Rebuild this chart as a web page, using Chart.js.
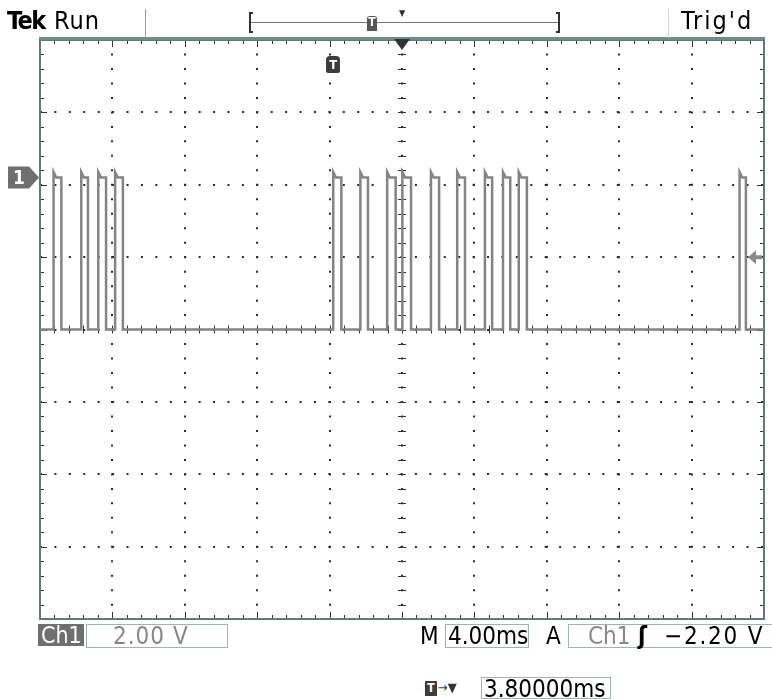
<!DOCTYPE html>
<html>
<head>
<meta charset="utf-8">
<script src="https://cdn.jsdelivr.net/npm/chart.js@4"></script>
<style>
  body { margin: 0; background: #fff; font-family: "DejaVu Sans Condensed", "DejaVu Sans", sans-serif; font-stretch: condensed; }
  #wrap { position: relative; width: 772px; height: 699px; overflow: hidden; }
  canvas { position: absolute; left: 0; top: 0; }
  .t { position: absolute; white-space: nowrap; line-height: 1; }
  .box { position: absolute; border: 1px solid #9fb3b3; box-sizing: border-box; }
  .ln { position: absolute; background: #8fa3a3; }
</style>
</head>
<body>
<div id="wrap">
  <canvas id="scope" width="772" height="699"></canvas>

  <!-- header -->
  <div class="t" style="left:7px;top:8px;font-size:25px;font-weight:bold;letter-spacing:-1.5px;">Tek</div>
  <div class="t" style="left:54px;top:8px;font-size:25px;letter-spacing:1px;">Run</div>
  <div class="ln" style="left:145px;top:9px;width:1px;height:29px;"></div>
  <div class="ln" style="left:668px;top:9px;width:1px;height:29px;background:#ccd6d6;"></div>
  <div class="ln" style="left:250px;top:22px;width:308px;height:1px;background:#777;"></div>
  <div class="ln" style="left:249px;top:12px;width:2px;height:21px;background:#333;"></div>
  <div class="ln" style="left:249px;top:12px;width:4px;height:2px;background:#333;"></div>
  <div class="ln" style="left:249px;top:31px;width:4px;height:2px;background:#333;"></div>
  <div class="ln" style="left:558px;top:12px;width:2px;height:21px;background:#333;"></div>
  <div class="ln" style="left:556px;top:12px;width:4px;height:2px;background:#333;"></div>
  <div class="ln" style="left:556px;top:31px;width:4px;height:2px;background:#333;"></div>
  <div class="t" style="left:367px;top:16px;width:10px;height:15px;background:#555;color:#fff;font-size:12px;text-align:center;border-radius:3px 3px 0 0;font-weight:bold;">T</div>
  <div class="t" style="left:399px;top:9px;font-size:9px;color:#333;">&#9660;</div>
  <div class="t" style="left:681px;top:8px;font-size:25px;letter-spacing:2px;">Trig'd</div>

  <!-- markers placed from the scales -->
  <div id="chMark" class="t" style="font-size:19px;font-weight:bold;color:#fff;">1</div>
  <div id="tMark" class="t" style="width:14px;height:17px;background:#3d3d3d;color:#fff;font-size:13px;font-weight:bold;text-align:center;padding-top:2px;box-sizing:border-box;border-radius:4px 4px 2px 2px;">T</div>

  <!-- footer -->
  <div class="t" style="left:38px;top:624px;width:46px;height:22px;background:#6f6f6f;color:#fff;font-size:23px;padding:0 0 0 3px;box-sizing:border-box;">Ch1</div>
  <div class="box" style="left:86px;top:624px;width:142px;height:24px;"></div>
  <div class="t" style="left:113px;top:624px;font-size:24px;color:#888;letter-spacing:1px;">2.00 V</div>
  <div class="t" style="left:420px;top:624px;font-size:24px;">M</div>
  <div class="box" style="left:445px;top:624px;width:84px;height:24px;"></div>
  <div class="t" style="left:448px;top:624px;font-size:24px;">4.00ms</div>
  <div class="t" style="left:546px;top:624px;font-size:24px;">A</div>
  <div class="box" style="left:568px;top:624px;width:210px;height:24px;"></div>
  <div class="t" style="left:588px;top:624px;font-size:24px;color:#888;">Ch1</div>
  <div class="t" style="left:638px;top:624px;font-size:24px;font-weight:bold;">&#643;</div>
  <div class="t" style="left:664px;top:624px;font-size:24px;letter-spacing:1.8px;">&minus;2.20 V</div>

  <div class="t" style="left:425px;top:681px;width:12px;height:15px;background:#3d3d3d;color:#fff;font-size:12px;text-align:center;font-weight:bold;padding-top:1px;box-sizing:border-box;">T</div>
  <div class="t" style="left:438px;top:681px;font-size:13px;color:#333;">&rarr;&#9660;</div>
  <div class="box" style="left:481px;top:677px;width:130px;height:22px;"></div>
  <div class="t" style="left:484px;top:677px;font-size:24px;">3.80000ms</div>
</div>

<script>
// time base and vertical setting
const msPerDiv = 4;
const voltsPerDiv = 2;
const xMin = -16.2;          // trigger sits 3.8 ms left of centre
const yMin = -12.2;
const triggerTime = 0;
const triggerLevel = -2.2;
const groundLevel = 0;

// pulse edges (ms from trigger)
const riseMs = [-15.45, -13.92, -12.98, -12.05, 0.0, 1.5, 2.98, 3.82, 5.4, 6.85, 8.38, 9.38, 10.25, 22.45];
const fallMs = [-15.02, -13.55, -12.55, -11.62, 0.45, 1.92, 3.45, 4.3, 5.85, 7.28, 8.78, 9.78, 10.7, 22.8];

// levels (V)
const lowV = -4.2;
const highV = 0.0;
const peakV = 0.15;
const settleMs = 0.15;

const xMax = xMin + 10 * msPerDiv;
const yMax = yMin + 8 * voltsPerDiv;

const trace = [{ x: xMin, y: lowV }];
riseMs.forEach((r, i) => {
  trace.push({ x: r, y: lowV });
  trace.push({ x: r, y: peakV });
  trace.push({ x: r + settleMs, y: highV });
  trace.push({ x: fallMs[i], y: highV });
  trace.push({ x: fallMs[i], y: lowV });
});
trace.push({ x: xMax, y: lowV });

function divTicks(min, step, n) {
  const out = [];
  for (let i = 0; i <= n; i++) out.push({ value: min + i * step });
  return out;
}

const graticule = {
  id: 'graticule',
  beforeDatasetsDraw(chart) {
    const { ctx, chartArea: a, scales: { x, y } } = chart;
    const xc = x.getPixelForValue(xMin + 5 * msPerDiv);
    const yc = y.getPixelForValue(yMin + 4 * voltsPerDiv);
    ctx.save();
    ctx.strokeStyle = '#333';
    ctx.lineWidth = 1;
    ctx.beginPath();
    for (let k = 0; k <= 50; k++) {
      const px = Math.round(x.getPixelForValue(xMin + k * msPerDiv / 5)) + 0.5;
      const len = k % 5 === 0 ? 7 : 4;
      ctx.moveTo(px, a.top); ctx.lineTo(px, a.top + len);
      ctx.moveTo(px, a.bottom); ctx.lineTo(px, a.bottom - len);
      ctx.moveTo(px, yc - 4); ctx.lineTo(px, yc + 4);
    }
    for (let k = 0; k <= 40; k++) {
      const py = Math.round(y.getPixelForValue(yMin + k * voltsPerDiv / 5)) + 0.5;
      const len = k % 5 === 0 ? 7 : 4;
      ctx.moveTo(a.left, py); ctx.lineTo(a.left + len, py);
      ctx.moveTo(a.right, py); ctx.lineTo(a.right - len, py);
      ctx.moveTo(xc - 4, py); ctx.lineTo(xc + 4, py);
    }
    ctx.stroke();
    // frame
    ctx.strokeStyle = '#5f7a7a';
    ctx.lineWidth = 2;
    ctx.strokeRect(a.left, a.top, a.right - a.left, a.bottom - a.top);
    ctx.fillStyle = '#6f8c8c';
    ctx.fillRect(a.left - 1, a.top - 3, a.right - a.left + 2, 3);
    ctx.restore();
  },
  afterDraw(chart) {
    const { ctx, chartArea: a, scales: { x, y } } = chart;
    const xc = x.getPixelForValue(xMin + 5 * msPerDiv);
    const gy = y.getPixelForValue(groundLevel);
    const ty = y.getPixelForValue(triggerLevel);
    const tx = x.getPixelForValue(triggerTime);
    ctx.save();
    // centre (time reference) triangle
    ctx.fillStyle = '#333';
    ctx.beginPath();
    ctx.moveTo(xc - 8, a.top - 1); ctx.lineTo(xc + 8, a.top - 1); ctx.lineTo(xc, a.top + 10);
    ctx.fill();
    // channel 1 ground marker
    ctx.fillStyle = '#6f6f6f';
    ctx.beginPath();
    ctx.moveTo(8, gy - 11); ctx.lineTo(29, gy - 11); ctx.lineTo(a.left - 1, gy);
    ctx.lineTo(29, gy + 11); ctx.lineTo(8, gy + 11);
    ctx.closePath();
    ctx.fill();
    // trigger level arrow
    ctx.fillStyle = '#8a8a8a';
    ctx.beginPath();
    ctx.moveTo(a.right - 16, ty); ctx.lineTo(a.right - 8, ty - 7); ctx.lineTo(a.right - 8, ty - 2);
    ctx.lineTo(a.right - 2, ty - 2); ctx.lineTo(a.right - 2, ty + 2); ctx.lineTo(a.right - 8, ty + 2);
    ctx.lineTo(a.right - 8, ty + 7);
    ctx.closePath();
    ctx.fill();
    ctx.restore();

    const ch = document.getElementById('chMark');
    ch.style.left = '13px';
    ch.style.top = (gy - 10) + 'px';
    const tm = document.getElementById('tMark');
    tm.style.left = (tx - 7) + 'px';
    tm.style.top = (a.top + 16) + 'px';
  }
};

new Chart(document.getElementById('scope'), {
  type: 'line',
  data: {
    datasets: [{
      label: 'Ch1',
      data: trace,
      borderColor: '#848484',
      borderWidth: 2.5,
      pointRadius: 0,
      tension: 0,
      fill: false
    }]
  },
  options: {
    responsive: false,
    animation: false,
    layout: { padding: { left: 40, top: 40, right: 8, bottom: 80 } },
    plugins: { legend: { display: false }, tooltip: { enabled: false } },
    scales: {
      x: {
        type: 'linear',
        min: xMin,
        max: xMax,
        afterBuildTicks: s => { s.ticks = divTicks(xMin, msPerDiv, 10); },
        ticks: { display: false },
        grid: { color: '#2a2a2a', lineWidth: 2, drawTicks: false },
        border: { display: true, color: '#5f7a7a', width: 2, dash: [2, 12.48], dashOffset: 1 }
      },
      y: {
        type: 'linear',
        min: yMin,
        max: yMax,
        afterBuildTicks: s => { s.ticks = divTicks(yMin, voltsPerDiv, 8); },
        ticks: { display: false },
        grid: { color: '#2a2a2a', lineWidth: 2, drawTicks: false },
        border: { display: true, color: '#5f7a7a', width: 2, dash: [2, 12.42], dashOffset: 1 }
      }
    }
  },
  plugins: [graticule]
});
</script>
</body>
</html>
